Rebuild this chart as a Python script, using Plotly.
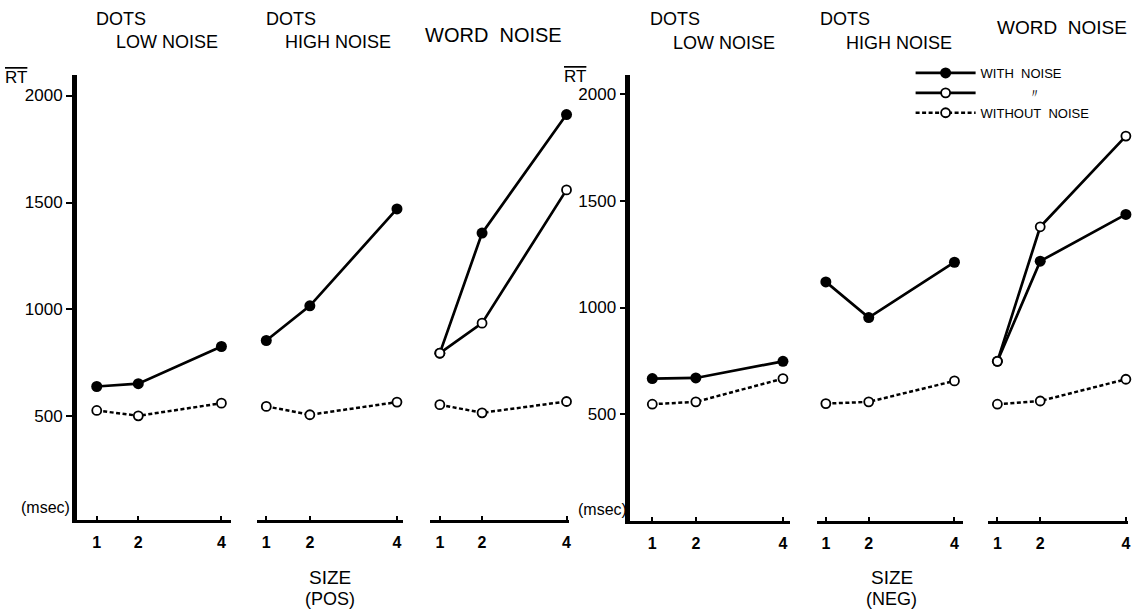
import plotly.graph_objects as go

W, H = 1143, 612

sizes = [1, 2, 4]

# POS group (left)
pos_low_with = [640, 653, 827]
pos_low_without = [528, 503, 562]
pos_high_with = [855, 1017, 1470]
pos_high_without = [547, 508, 567]
pos_word_with_filled = [796, 1357, 1911]
pos_word_with_open = [796, 936, 1559]
pos_word_without = [555, 517, 570]

# NEG group (right)
neg_low_with = [667, 670, 748]
neg_low_without = [547, 558, 667]
neg_high_with = [1120, 953, 1212]
neg_high_without = [550, 558, 656]
neg_word_with_filled = [748, 1217, 1436]
neg_word_with_open = [748, 1378, 1803]
neg_word_without = [547, 562, 664]

y_ticks = [500, 1000, 1500, 2000]
x_ticks = [1, 2, 4]

FONT = "Liberation Sans, Arial, sans-serif"


def px(p):
    return p / W


def py(p):
    return 1 - p / H


fig = go.Figure()

filled_style = dict(mode="lines+markers", cliponaxis=False,
                    line=dict(color="black", width=2.7),
                    marker=dict(symbol="circle", size=11, color="black"))
open_solid_style = dict(mode="lines+markers", cliponaxis=False,
                        line=dict(color="black", width=2.7),
                        marker=dict(symbol="circle", size=9, color="white",
                                    line=dict(color="black", width=1.8)))
open_dot_style = dict(mode="lines+markers", cliponaxis=False,
                      line=dict(color="black", width=2.5, dash="4px,2.5px"),
                      marker=dict(symbol="circle", size=9, color="white",
                                  line=dict(color="black", width=1.8)))

panels = [
    ("x", "y", pos_low_with, None, pos_low_without),
    ("x2", "y", pos_high_with, None, pos_high_without),
    ("x3", "y", pos_word_with_filled, pos_word_with_open, pos_word_without),
    ("x4", "y2", neg_low_with, None, neg_low_without),
    ("x5", "y2", neg_high_with, None, neg_high_without),
    ("x6", "y2", neg_word_with_filled, neg_word_with_open, neg_word_without),
]

shown = set()
for xa, ya, w_f, w_o, wo in panels:
    fig.add_trace(go.Scatter(x=sizes, y=w_f, xaxis=xa, yaxis=ya,
                             name="WITH\u00a0\u00a0NOISE", legendgroup="f",
                             legendrank=1, showlegend="f" not in shown,
                             **filled_style))
    shown.add("f")
    if w_o is not None:
        fig.add_trace(go.Scatter(x=sizes, y=w_o, xaxis=xa, yaxis=ya,
                                 name="\u00a0" * 13 + "\u3003", legendgroup="o",
                                 legendrank=2, showlegend="o" not in shown,
                                 **open_solid_style))
        shown.add("o")
    fig.add_trace(go.Scatter(x=sizes, y=wo, xaxis=xa, yaxis=ya,
                             name="WITHOUT\u00a0\u00a0NOISE", legendgroup="d",
                             legendrank=3, showlegend="d" not in shown,
                             **open_dot_style))
    shown.add("d")

# axis layout (pixel positions of each panel)
x_domains = [(77, 232), (258, 404), (431, 570), (632, 792), (819, 966), (991, 1131)]
x_ranges = [(0.52, 4.24), (0.794, 4.137), (0.764, 4.047),
            (0.496, 4.16), (0.79, 4.21), (0.79, 4.05)]

layout = dict(
    width=W, height=H,
    margin=dict(l=0, r=0, t=0, b=0),
    paper_bgcolor="white", plot_bgcolor="white",
    font=dict(family=FONT, color="black"),
    showlegend=True,
    legend=dict(x=px(913), y=py(58), xanchor="left", yanchor="top",
                font=dict(size=13, family=FONT, color="black"),
                bgcolor="rgba(0,0,0,0)", itemwidth=60,
                tracegroupgap=0),
)

for i, ((d0, d1), (r0, r1)) in enumerate(zip(x_domains, x_ranges)):
    key = "xaxis" if i == 0 else f"xaxis{i+1}"
    layout[key] = dict(
        domain=[px(d0), px(d1)], range=[r0, r1],
        anchor="y" if i < 3 else "y2",
        showline=True, linewidth=3.2, linecolor="black",
        ticks="inside", ticklen=4, tickwidth=1.6, tickcolor="black",
        tickvals=x_ticks, ticktext=[str(v) for v in x_ticks],
        tickfont=dict(size=16, family=FONT, color="black", weight="bold"),
        ticklabelstandoff=6,
        showgrid=False, zeroline=False, fixedrange=True,
    )

layout["yaxis"] = dict(
    domain=[py(520), py(75)], range=[16, 2096], anchor="x",
    showline=True, linewidth=4.5, linecolor="black",
    ticks="outside", ticklen=6, tickwidth=1.6, tickcolor="black",
    tickvals=y_ticks, tickfont=dict(size=17, family=FONT, color="black"),
    showgrid=False, zeroline=False,
)
layout["yaxis2"] = dict(
    domain=[py(521), py(75)], range=[0, 2089], anchor="x4",
    showline=True, linewidth=4.5, linecolor="black",
    ticks="outside", ticklen=6, tickwidth=1.6, tickcolor="black",
    tickvals=y_ticks, tickfont=dict(size=17, family=FONT, color="black"),
    showgrid=False, zeroline=False,
)

fig.update_layout(**layout)


def ann(text, x, y, size=18, xanchor="left"):
    fig.add_annotation(text=text, x=px(x), y=py(y), xref="paper", yref="paper",
                       xanchor=xanchor, yanchor="middle", showarrow=False,
                       font=dict(size=size, family=FONT, color="black"))


# panel titles
ann("DOTS", 94, 19)
ann("LOW NOISE", 114, 42)
ann("DOTS", 265, 19)
ann("HIGH NOISE", 284, 42)
ann("WORD\u00a0\u00a0NOISE", 424, 35, size=20)
ann("DOTS", 650, 19)
ann("LOW NOISE", 673, 43)
ann("DOTS", 820, 19)
ann("HIGH NOISE", 846, 43)
ann("WORD\u00a0\u00a0NOISE", 998, 28, size=19)

# y labels
ann("<span style='text-decoration:overline'>RT</span>", 16, 77, size=17, xanchor="center")
ann("<span style='text-decoration:overline'>RT</span>", 577, 76, size=17, xanchor="center")
ann("(msec)", 72, 507, size=16, xanchor="right")
ann("(msec)", 631, 509, size=16, xanchor="right")

# x labels
ann("SIZE", 331, 577, size=19, xanchor="center")
ann("(POS)", 331, 599, size=18, xanchor="center")
ann("SIZE", 894, 577, size=19, xanchor="center")
ann("(NEG)", 894, 599, size=18, xanchor="center")

fig.write_html("out.html")
